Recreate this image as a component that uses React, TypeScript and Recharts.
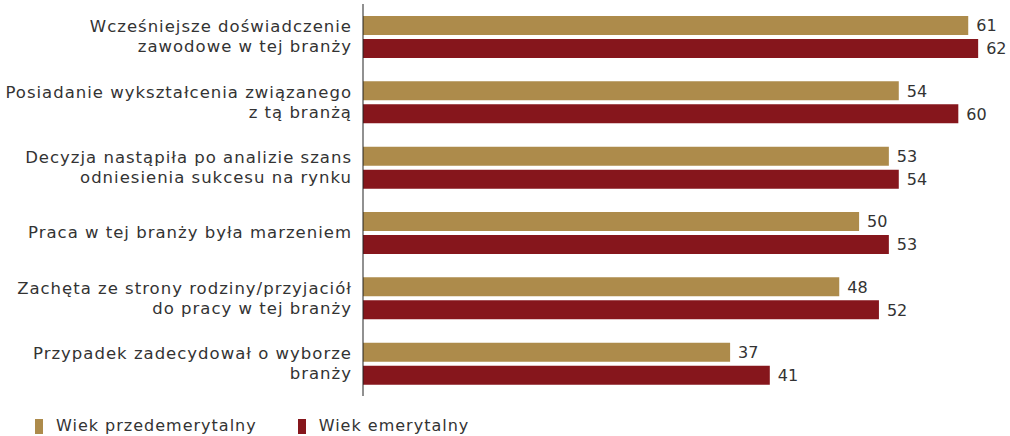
import React from 'react';
import { BarChart, Bar, XAxis, YAxis, LabelList } from 'recharts';

const CATEGORIES = [
  'Wcześniejsze doświadczenie\nzawodowe w tej branży',
  'Posiadanie wykształcenia związanego\nz tą branżą',
  'Decyzja nastąpiła po analizie szans\nodniesienia sukcesu na rynku',
  'Praca w tej branży była marzeniem',
  'Zachęta ze strony rodziny/przyjaciół\ndo pracy w tej branży',
  'Przypadek zadecydował o wyborze\nbranży',
];
const PRE_RETIREMENT = [61, 54, 53, 50, 48, 37];
const RETIREMENT = [62, 60, 54, 53, 52, 41];
const SERIES_NAMES = ['Wiek przedemerytalny', 'Wiek emerytalny'];

const GOLD = '#ad8b4b';
const RED = '#86161c';
const FONT = '"DejaVu Sans", sans-serif';

const data = CATEGORIES.map((name, i) => ({
  name,
  pre: PRE_RETIREMENT[i],
  ret: RETIREMENT[i],
}));

const CategoryTick = (props: any) => {
  const { x, y, payload } = props;
  const lines: string[] = String(payload.value).split('\n');
  const start = -((lines.length - 1) * 20) / 2;
  return (
    <text
      x={x}
      y={y}
      textAnchor="end"
      fill="#333"
      fontSize={16.5}
      letterSpacing={1}
      fontFamily={FONT}
    >
      {lines.map((line, i) => (
        <tspan key={i} x={x} dy={i === 0 ? start + 5.5 : 20}>
          {line}
        </tspan>
      ))}
    </text>
  );
};

export default function App() {
  return (
    <div style={{ position: 'absolute', left: 0, top: 0, width: 1010, height: 436, background: '#fff' }}>
      <BarChart
        width={1010}
        height={436}
        data={data}
        layout="vertical"
        margin={{ top: 4, right: 12, bottom: 40, left: 0 }}
        barSize={19}
        barGap={4}
      >
        <XAxis type="number" domain={[0, 64]} hide />
        <YAxis
          type="category"
          dataKey="name"
          width={363}
          tickLine={false}
          tickSize={0}
          tickMargin={11}
          axisLine={{ stroke: '#222', strokeWidth: 1 }}
          tick={<CategoryTick />}
        />
        <Bar dataKey="pre" name={SERIES_NAMES[0]} fill={GOLD} isAnimationActive={false}>
          <LabelList dataKey="pre" position="right" offset={8} fill="#333" fontSize={16} fontFamily={FONT} />
        </Bar>
        <Bar dataKey="ret" name={SERIES_NAMES[1]} fill={RED} isAnimationActive={false}>
          <LabelList dataKey="ret" position="right" offset={8} fill="#333" fontSize={16} fontFamily={FONT} />
        </Bar>
      </BarChart>
      {/* legend below the plot */}
      <div
        style={{
          position: 'absolute',
          left: 35,
          top: 416,
          display: 'flex',
          fontFamily: FONT,
          fontSize: 16,
          letterSpacing: 1,
          color: '#333',
          lineHeight: '20px',
        }}
      >
        {SERIES_NAMES.map((s, i) => (
          <div key={s} style={{ display: 'flex', alignItems: 'center', marginRight: 41 }}>
            <span
              style={{
                width: 8,
                height: 15,
                background: i === 0 ? GOLD : RED,
                display: 'inline-block',
                marginRight: 13,
              }}
            />
            {s}
          </div>
        ))}
      </div>
    </div>
  );
}
